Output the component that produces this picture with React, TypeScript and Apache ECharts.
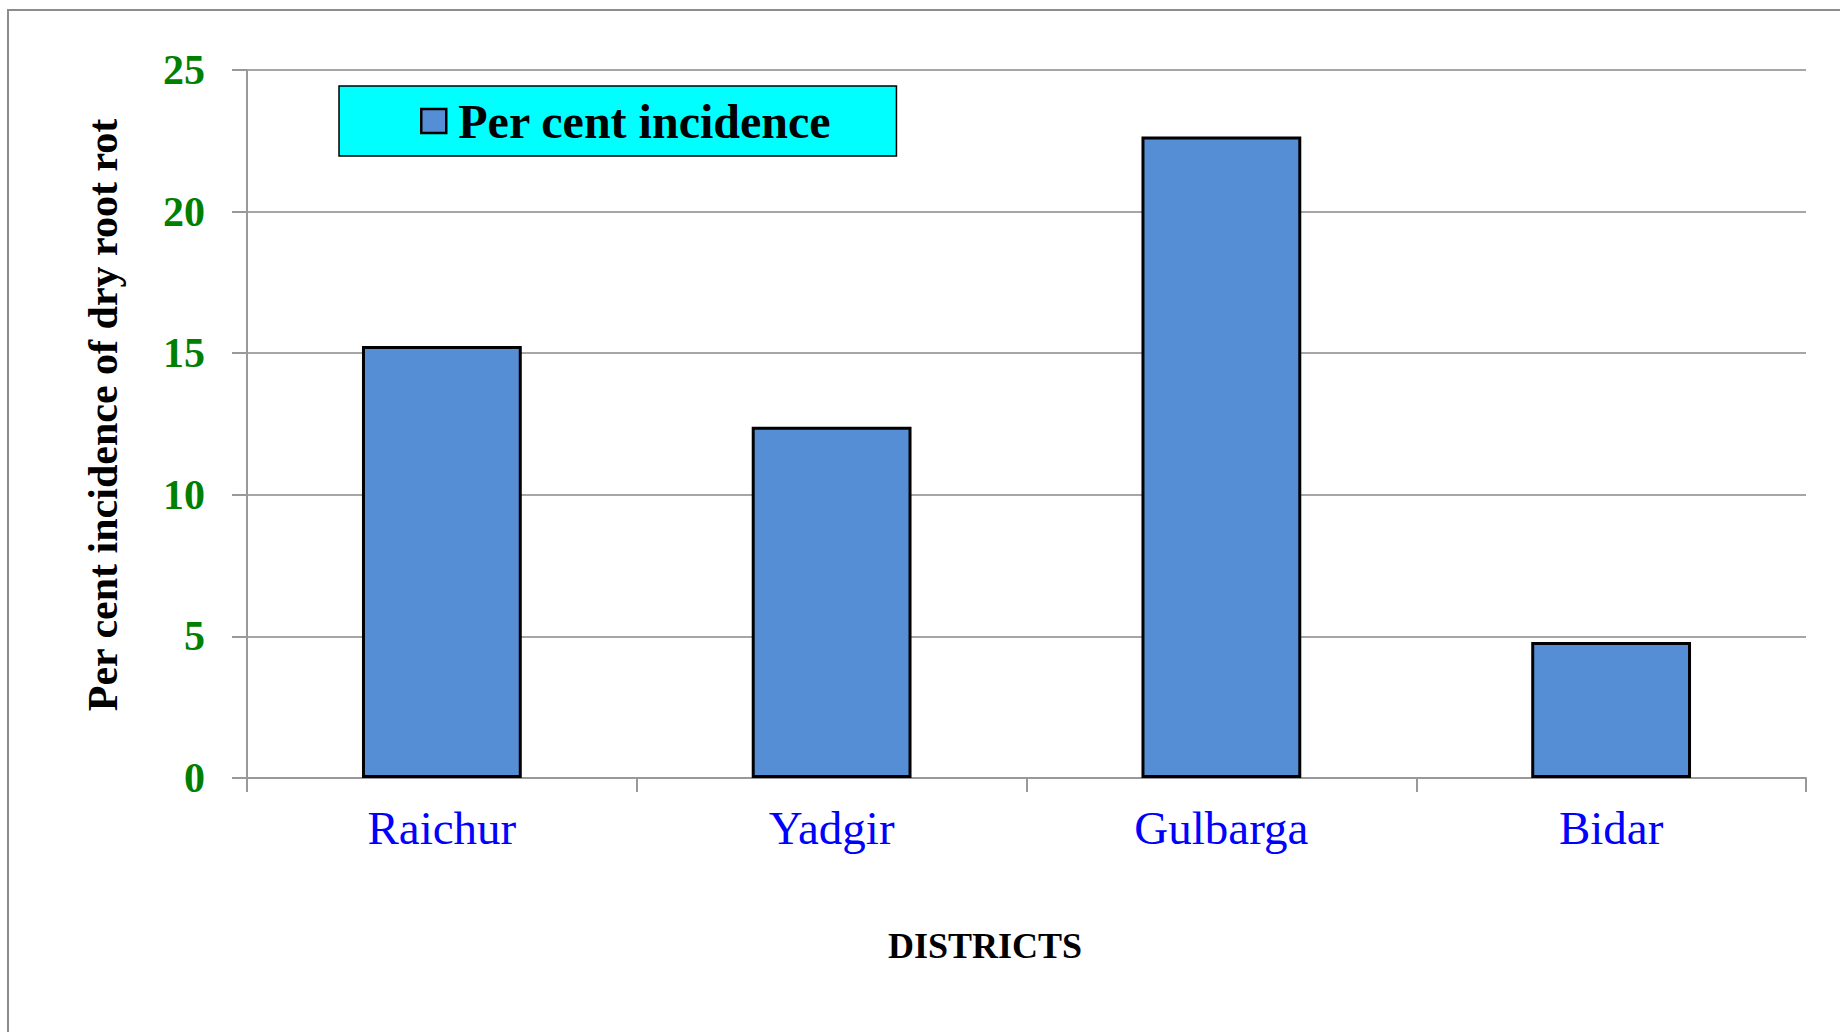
import React, { useEffect, useRef } from "react";
import * as echarts from "echarts";

const districts = ["Raichur", "Yadgir", "Gulbarga", "Bidar"];
const incidence = [15.25, 12.4, 22.65, 4.8];
const seriesName = "Per cent incidence";
const yTitle = "Per cent incidence of dry root rot";
const xTitle = "DISTRICTS";

const FONT = "'Liberation Serif', 'Times New Roman', serif";

export default function App() {
  const ref = useRef<HTMLDivElement>(null);
  useEffect(() => {
    if (!ref.current) return;
    const chart = echarts.init(ref.current, undefined, { renderer: "svg" });
    chart.setOption({
      animation: false,
      backgroundColor: "#ffffff",
      grid: { left: 247, right: 34, top: 70, bottom: 254, containLabel: false },
      legend: {
        data: [seriesName],
        left: 339,
        top: 86,
        padding: [10, 65, 10, 81],
        backgroundColor: "#00FFFF",
        borderColor: "#000000",
        borderWidth: 1.5,
        itemWidth: 25,
        itemHeight: 24,
        icon: "rect",
        itemStyle: { color: "#558ED5", borderColor: "#000000", borderWidth: 2.5 },
        textStyle: {
          fontFamily: FONT,
          fontSize: 48,
          fontWeight: "bold",
          color: "#000000",
          lineHeight: 50,
          padding: [0, 0, 0, 7],
        },
      },
      xAxis: {
        type: "category",
        data: districts,
        axisLine: { show: true, lineStyle: { color: "#999999", width: 2 } },
        axisTick: { show: true, length: 14, alignWithLabel: false, lineStyle: { color: "#999999", width: 2 } },
        axisLabel: {
          color: "#0000FF",
          fontFamily: FONT,
          fontSize: 47,
          margin: 26,
        },
        splitLine: { show: false },
      },
      yAxis: {
        type: "value",
        min: 0,
        max: 25,
        interval: 5,
        axisLine: { show: true, lineStyle: { color: "#999999", width: 2 } },
        axisTick: { show: true, length: 15, lineStyle: { color: "#999999", width: 2 } },
        axisLabel: {
          color: "#008000",
          fontFamily: FONT,
          fontSize: 42,
          fontWeight: "bold",
          margin: 42,
        },
        splitLine: { show: true, lineStyle: { color: "#A6A6A6", width: 2 } },
      },
      series: [
        {
          name: seriesName,
          type: "bar",
          data: incidence,
          barCategoryGap: "59%",
          itemStyle: { color: "#558ED5", borderColor: "#000000", borderWidth: 3 },
        },
      ],
      graphic: [
        {
          type: "rect",
          silent: true,
          z: -1,
          shape: { x: 8, y: 10, width: 2000, height: 1200 },
          style: { fill: "none", stroke: "#8C8C8C", lineWidth: 2 },
        },
        {
          type: "text",
          x: 103,
          y: 415,
          rotation: Math.PI / 2,
          style: {
            text: yTitle,
            fontFamily: FONT,
            fontSize: 42,
            fontWeight: "bold",
            fill: "#000000",
            textAlign: "center",
            textVerticalAlign: "middle",
          },
        },
        {
          type: "text",
          x: 985,
          y: 946,
          style: {
            text: xTitle,
            fontFamily: FONT,
            fontSize: 36,
            fontWeight: "bold",
            fill: "#000000",
            textAlign: "center",
            textVerticalAlign: "middle",
          },
        },
      ],
    });
    return () => chart.dispose();
  }, []);
  return (
    <div
      ref={ref}
      style={{ position: "absolute", left: 0, top: 0, width: 1840, height: 1032 }}
    />
  );
}
